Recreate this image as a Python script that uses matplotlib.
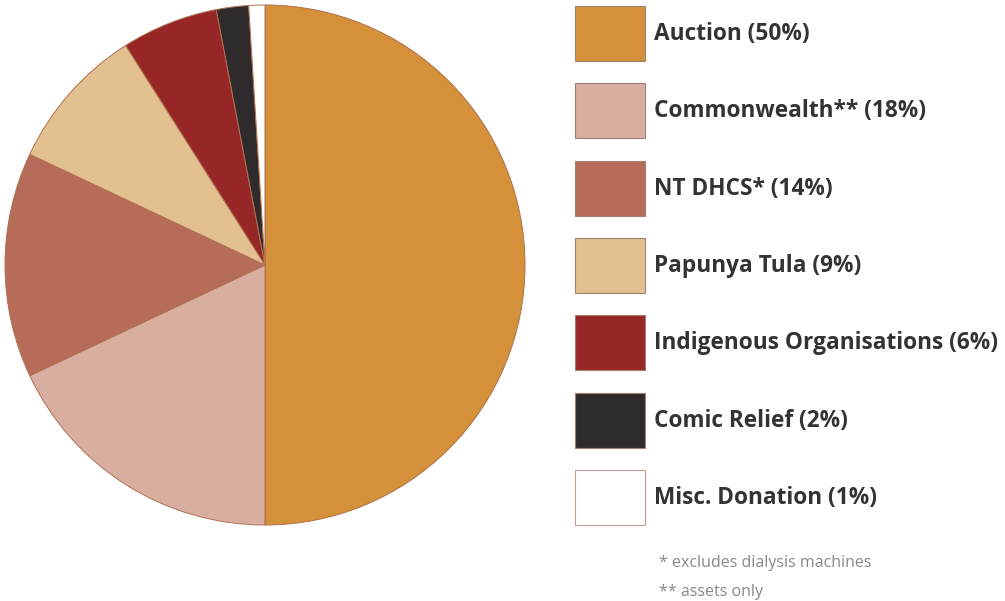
import matplotlib.pyplot as plt
from matplotlib.patches import Rectangle

labels = ['Auction', 'Commonwealth**', 'NT DHCS*', 'Papunya Tula',
          'Indigenous Organisations', 'Comic Relief', 'Misc. Donation']
shares = [50, 18, 14, 9, 6, 2, 1]
colors = ['#d4913a', '#d7ae9f', '#b66c58', '#e3c08f', '#962726', '#2f2a2b', '#ffffff']
notes = ['* excludes dialysis machines', '** assets only']

W, H = 1005, 601
fig = plt.figure(figsize=(W / 100, H / 100), dpi=100)
fig.patch.set_facecolor('white')

# pie, centre ~ (265, 265) px, radius ~260 px
ax = fig.add_axes([5 / W, (H - 525) / H, 520 / W, 520 / H])
ax.pie(shares, colors=colors, startangle=90, counterclock=False,
       wedgeprops=dict(edgecolor='#b07050', linewidth=0.7))
ax.set_xlim(-1, 1)
ax.set_ylim(-1, 1)
ax.set_aspect('equal')
ax.axis('off')

# legend drawn in pixel coordinates
lg = fig.add_axes([0, 0, 1, 1])
lg.set_xlim(0, W)
lg.set_ylim(H, 0)
lg.axis('off')
for i, (lab, val, c) in enumerate(zip(labels, shares, colors)):
    top = 6 + i * 77.3
    edge = '#c99a90' if c == '#ffffff' else '#a08070'
    lg.add_patch(Rectangle((575, top), 70, 55, facecolor=c, edgecolor=edge, linewidth=0.8))
    lg.text(654, top + 28, f'{lab} ({val}%)', fontsize=16.3, fontweight='bold',
            family='Open Sans', color='#333333', va='center', ha='left')

for j, n in enumerate(notes):
    lg.text(659, 563 + j * 29, n, fontsize=11.5, family='Open Sans', color='#888888',
            va='center', ha='left')

fig.savefig('out.png', dpi=100, facecolor='white')
